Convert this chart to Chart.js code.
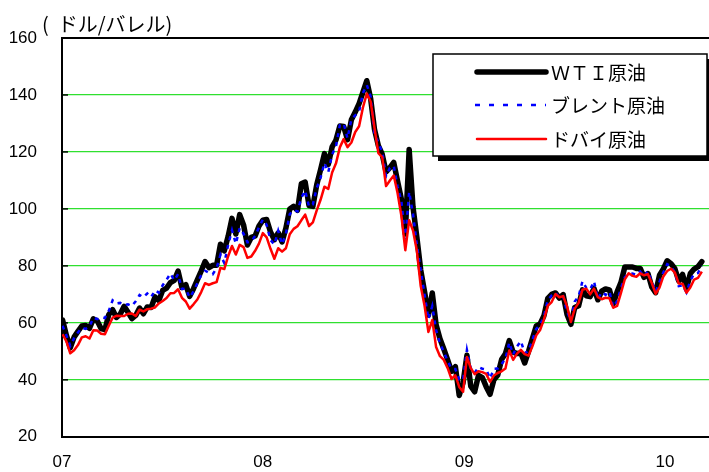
<!DOCTYPE html>
<html lang="ja">
<head>
<meta charset="utf-8">
<title>原油価格の推移</title>
<script src="https://cdn.jsdelivr.net/npm/chart.js@4.4.1/dist/chart.umd.min.js"></script>
<style>
  html, body { margin: 0; padding: 0; background: #fff; overflow: hidden; }
  canvas { display: block; }
</style>
</head>
<body>
<canvas id="chart" width="709" height="472"></canvas>
<script>
// Weekly observations (Tuesdays), first one on 2 Jan 2007 (day 1 counted from 1 Jan 2007)
const FIRST_DAY = 1;
const STEP_DAYS = 7;

// Year ticks on the time axis, in days from 1 Jan 2007
const YEAR_DAYS = [0, 365, 731, 1096];
const YEAR_LABELS = ['07', '08', '09', '10'];
const X_MAX_DAYS = 1176;

// Y axis
const Y_MIN = 20, Y_MAX = 160, Y_STEP = 20;
const UNIT_LABEL = '(  ドル/バレル)';

const SERIES_NAMES = ['ＷＴＩ原油', 'ブレント原油', 'ドバイ原油'];

// ドル/バレル
const wti = [
  61.0, 55.6, 51.2, 55.0, 57.0, 58.9, 59.1, 58.1, 61.4, 60.7, 58.0, 57.6, 62.9, 64.6, 61.9, 63.1, 65.8, 63.7, 61.5, 62.6,
  65.2, 63.2, 65.6, 65.4, 69.1, 67.8, 71.4, 72.2, 74.1, 74.9, 78.2, 72.4, 73.4, 69.3, 72.0, 75.1, 78.2, 81.5, 79.4, 80.2,
  80.2, 87.6, 85.3, 90.4, 96.7, 91.2, 98.0, 94.4, 87.3, 90.0, 90.5, 94.0,
  96.0, 96.3, 91.9, 89.2, 91.6, 88.4, 93.3, 100.0, 100.9, 99.5, 108.8, 109.4, 101.2, 100.9, 108.5, 113.8, 119.4, 115.6,
  121.8, 124.2, 129.1, 128.9, 124.3, 131.3, 134.0, 137.0, 141.0, 145.0, 138.7, 127.9, 122.2, 119.2, 113.0, 114.5, 116.3,
  109.7, 103.3, 91.2, 120.9, 100.6, 90.1, 78.6, 70.9, 62.7, 70.5, 59.3, 54.4, 50.8, 47.0, 43.0, 44.6, 34.5, 39.0,
  48.6, 37.8, 35.8, 41.6, 40.8, 37.6, 34.9, 40.0, 41.7, 47.1, 49.2, 53.8, 49.7, 49.2, 49.4, 45.9, 50.0, 54.5, 58.9, 59.6,
  62.5, 68.6, 70.0, 70.5, 68.7, 69.9, 62.9, 59.5, 65.4, 66.0, 71.6, 69.5, 69.2, 72.1, 68.1, 71.1, 71.9, 71.6, 66.7, 70.9,
  74.2, 79.6, 79.6, 79.6, 79.1, 79.1, 76.0, 77.3, 72.6, 70.6, 76.7, 78.9,
  81.8, 80.8, 79.0, 74.7, 77.0, 72.0, 77.3, 78.9, 79.7, 81.5
];

const brent = [
  59.0, 55.6, 51.9, 54.6, 56.6, 58.3, 57.9, 58.7, 61.8, 61.3, 61.9, 61.7, 64.2, 67.9, 66.8, 67.0, 66.2, 66.5, 65.9, 67.6,
  69.8, 69.0, 70.3, 69.0, 71.4, 70.6, 73.2, 75.1, 77.3, 74.9, 77.1, 71.9, 72.0, 68.9, 71.0, 73.9, 76.7, 78.3, 77.6, 77.1,
  79.2, 83.9, 81.0, 87.4, 92.5, 87.8, 93.3, 91.3, 88.3, 88.6, 90.5, 93.5,
  96.3, 94.4, 89.1, 87.5, 92.3, 87.6, 91.3, 98.2, 99.6, 99.1, 103.9, 106.4, 100.8, 101.6, 107.3, 110.9, 116.1, 112.9,
  119.1, 121.9, 129.4, 130.0, 124.8, 131.5, 132.8, 134.2, 140.7, 143.5, 139.5, 126.2, 123.4, 119.9, 111.5, 114.4, 115.1,
  107.8, 102.6, 89.2, 106.0, 98.2, 87.3, 78.5, 69.9, 61.3, 65.9, 57.5, 52.8, 49.8, 46.6, 43.9, 43.8, 40.0, 39.9,
  50.5, 44.1, 42.4, 44.5, 43.9, 43.6, 40.5, 43.9, 44.0, 45.5, 47.4, 53.1, 48.9, 51.7, 53.6, 49.4, 50.1, 54.0, 57.9, 59.2,
  62.3, 68.0, 69.6, 70.6, 68.8, 69.3, 63.9, 60.8, 67.5, 69.3, 74.6, 72.3, 71.7, 74.6, 68.4, 70.8, 69.8, 71.0, 65.6, 67.6,
  72.2, 76.0, 77.2, 77.3, 76.8, 78.0, 76.4, 78.1, 74.5, 71.0, 74.4, 77.7,
  80.6, 79.9, 77.7, 72.9, 73.2, 70.7, 74.8, 77.2, 77.5, 80.0
];

const dubai = [
  56.0, 53.5, 49.3, 50.4, 52.2, 54.9, 55.3, 54.5, 57.4, 57.3, 56.2, 56.0, 59.0, 61.8, 62.5, 62.4, 62.4, 63.2, 63.3, 62.4,
  64.6, 64.0, 64.8, 65.0, 65.4, 66.8, 67.7, 68.7, 70.4, 70.5, 71.8, 68.8, 67.5, 65.0, 66.5, 68.2, 70.8, 73.9, 73.3, 73.9,
  74.3, 79.3, 78.9, 83.4, 87.0, 84.0, 87.4, 86.6, 82.8, 83.3, 85.3, 87.8,
  91.5, 90.0, 86.0, 82.5, 86.2, 85.0, 86.2, 91.1, 93.0, 93.9, 96.0, 98.0, 94.0, 95.3, 99.5, 103.2, 107.8, 107.0,
  112.8, 116.0, 121.6, 124.5, 121.7, 123.3, 127.0, 129.0, 135.6, 140.5, 137.7, 128.4, 119.6, 118.2, 108.0, 110.0, 111.7,
  105.5, 97.4, 85.5, 96.0, 92.4, 85.3, 72.9, 66.0, 56.8, 61.0, 51.5, 48.3, 47.0, 44.1, 40.3, 41.6, 37.5, 35.8,
  48.0, 44.1, 42.0, 43.0, 42.7, 42.1, 39.3, 41.5, 42.4, 43.0, 44.0, 50.3, 47.0, 49.2, 50.5, 49.0, 48.5, 51.8, 55.6, 57.5,
  61.2, 66.0, 67.3, 70.1, 69.0, 69.4, 65.8, 60.3, 65.0, 67.0, 71.6, 72.0, 70.0, 72.0, 69.0, 68.3, 68.8, 68.6, 65.3, 66.0,
  70.5, 75.3, 77.4, 76.5, 76.2, 77.4, 76.7, 77.1, 74.0, 70.2, 72.4, 76.3,
  78.2, 79.0, 77.6, 73.8, 73.7, 70.6, 72.4, 75.2, 75.8, 78.0
];

const toPoints = values => values.map((v, i) => ({ x: FIRST_DAY + i * STEP_DAYS, y: v }));

const TEXT_FONT = "'Liberation Sans', Arial, 'Noto Sans CJK JP', sans-serif";
const JP_FONT = "'Noto Sans CJK JP', 'Liberation Sans', sans-serif";
const GRID_GREEN = '#2fe02f';

// Frame, inward y ticks, unit label and the boxed legend with drop shadow
const decorations = {
  id: 'decorations',
  afterDraw(chart) {
    const { ctx, chartArea: a, scales } = chart;
    ctx.save();

    // top border of the plot
    ctx.strokeStyle = '#000';
    ctx.lineWidth = 2;
    ctx.beginPath();
    ctx.moveTo(a.left - 1, a.top);
    ctx.lineTo(a.right + 2, a.top);
    ctx.stroke();

    // short tick marks pointing into the plot
    ctx.lineWidth = 1.5;
    scales.y.ticks.forEach(t => {
      const y = scales.y.getPixelForValue(t.value);
      ctx.beginPath();
      ctx.moveTo(a.left, y);
      ctx.lineTo(a.left + 6, y);
      ctx.stroke();
    });

    // unit label
    ctx.fillStyle = '#000';
    ctx.font = '20px ' + JP_FONT;
    ctx.textAlign = 'left';
    ctx.textBaseline = 'middle';
    ctx.fillText(UNIT_LABEL, 42, 24);

    // legend box
    const bx = 433, by = 54, bw = 274, bh = 102, sh = 5;
    ctx.fillStyle = '#000';
    ctx.fillRect(bx + sh, by + sh, bw, bh);
    ctx.fillStyle = '#fff';
    ctx.fillRect(bx, by, bw, bh);
    ctx.strokeStyle = '#000';
    ctx.lineWidth = 1.5;
    ctx.strokeRect(bx, by, bw, bh);

    const rows = [72, 105, 139];
    chart.data.datasets.forEach((ds, i) => {
      const y = rows[i];
      ctx.save();
      ctx.strokeStyle = ds.borderColor;
      ctx.lineWidth = ds.borderWidth;
      ctx.lineCap = ds.borderDash ? 'butt' : 'round';
      ctx.setLineDash(ds.borderDash ? [5, 9] : []);
      ctx.beginPath();
      ctx.moveTo(ds.borderDash ? 475 : 477, y);
      ctx.lineTo(546, y);
      ctx.stroke();
      ctx.restore();
      ctx.fillStyle = '#000';
      ctx.font = '19px ' + JP_FONT;
      ctx.textBaseline = 'middle';
      ctx.fillText(ds.label, 551, y + 1);
    });

    ctx.restore();
  }
};

new Chart(document.getElementById('chart'), {
  type: 'line',
  data: {
    datasets: [
      {
        label: SERIES_NAMES[0],
        data: toPoints(wti),
        borderColor: '#000000',
        borderWidth: 5.5,
        borderJoinStyle: 'round',
        borderCapStyle: 'round',
        order: 3
      },
      {
        label: SERIES_NAMES[1],
        data: toPoints(brent),
        borderColor: '#0000ff',
        borderWidth: 2.5,
        borderDash: [4, 5],
        order: 2
      },
      {
        label: SERIES_NAMES[2],
        data: toPoints(dubai),
        borderColor: '#ff0000',
        borderWidth: 2.5,
        borderJoinStyle: 'round',
        order: 1
      }
    ]
  },
  options: {
    responsive: false,
    animation: false,
    devicePixelRatio: 1,
    layout: { padding: { left: 0, top: 38, right: 0, bottom: 0 } },
    elements: {
      point: { radius: 0, hoverRadius: 0 },
      line: { tension: 0, fill: false }
    },
    plugins: {
      legend: { display: false },
      tooltip: { enabled: false },
      title: { display: false }
    },
    scales: {
      x: {
        type: 'linear',
        min: 0,
        max: X_MAX_DAYS,
        afterBuildTicks: s => { s.ticks = YEAR_DAYS.map(v => ({ value: v })); },
        afterFit: s => { s.height = 32; },
        grid: { display: false, drawTicks: false },
        border: { display: true, color: '#000', width: 2 },
        ticks: {
          autoSkip: false,
          maxRotation: 0,
          padding: 15,
          color: '#000',
          font: { family: TEXT_FONT, size: 17 },
          callback: v => YEAR_LABELS[YEAR_DAYS.indexOf(v)]
        }
      },
      y: {
        min: Y_MIN,
        max: Y_MAX,
        afterFit: s => { s.width = 62; },
        grid: { color: GRID_GREEN, lineWidth: 1.3, drawTicks: false },
        border: { display: true, color: '#000', width: 2 },
        ticks: {
          stepSize: Y_STEP,
          padding: 25,
          color: '#000',
          font: { family: TEXT_FONT, size: 17 }
        }
      }
    }
  },
  plugins: [decorations]
});
</script>
</body>
</html>
